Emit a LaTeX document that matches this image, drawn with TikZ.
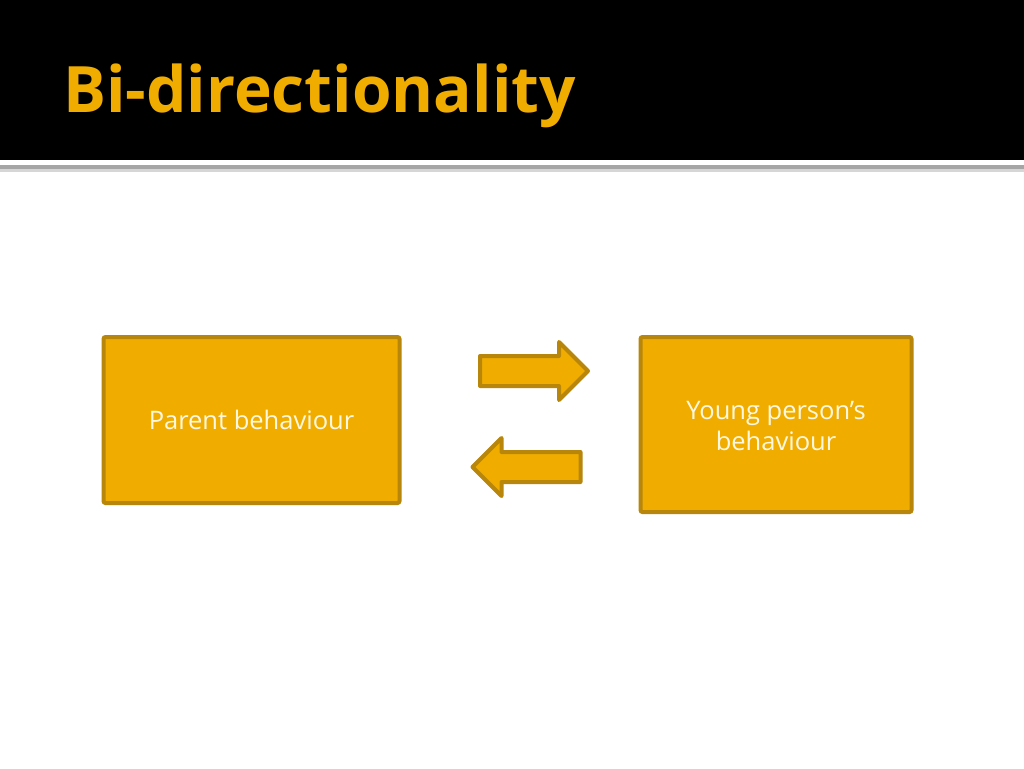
\documentclass[tikz,border=0pt]{standalone}
\usepackage{fontspec}
\setmainfont{Open Sans}
\usepackage{tikz}
\usetikzlibrary{calc}
\usetikzlibrary{shapes.arrows}
\usepackage{color}
\definecolor{amber}{RGB}{240, 173, 0}
\definecolor{bronze}{RGB}{184, 134, 11}
\definecolor{cream}{RGB}{255, 248, 225}
\definecolor{rule}{RGB}{165, 165, 165}

\begin{document}
\begin{tikzpicture}[x=1pt, y=-1pt,
    box/.style={draw=bronze, fill=amber, line width=4pt, rounded corners=2pt,
                text=cream, font=\fontsize{25.5}{31}\selectfont, align=center, inner sep=0pt},
    blockarrow/.style={single arrow, draw=bronze, fill=amber, line width=4pt, line join=round,
                inner sep=13pt, single arrow head extend=14pt, minimum height=108pt}]
            % Frame to fix the slide size
            \useasboundingbox (0,0) rectangle (1024,768);
            \fill[white]                                  (0,0) rectangle (1024,768);
            % Header band & rule
            \fill[black]                                  (0,0) rectangle (1024,160);
            \fill[rule!45]                                (0,168) rectangle (1024,172);
            \fill[rule]                                   (0,165) rectangle (1024,169);
            \node[anchor=base west, text=amber, font=\fontsize{64}{70}\selectfont\bfseries, inner sep=0pt]
                 (title) at (63,112) {Bi-directionality};
            % Boxes
            \node[box, minimum width=296pt, minimum height=166pt] (parent) at (251.5,420) {Parent behaviour};
            \node[box, minimum width=271pt, minimum height=175pt] (young)  at (776,424.5) {};
            \node[text=cream, font=\fontsize{25.5}{31}\selectfont, align=center, inner sep=0pt]
                 (younglabel) at ($(young.center)+(0,2)$) {Young person’s\\behaviour};
            % Arrows between the boxes
            \node[blockarrow]                     (toyoung)  at (526.5,371) {};
            \node[blockarrow, shape border rotate=180] (toparent) at (534,467) {};
\end{tikzpicture}
\end{document}
